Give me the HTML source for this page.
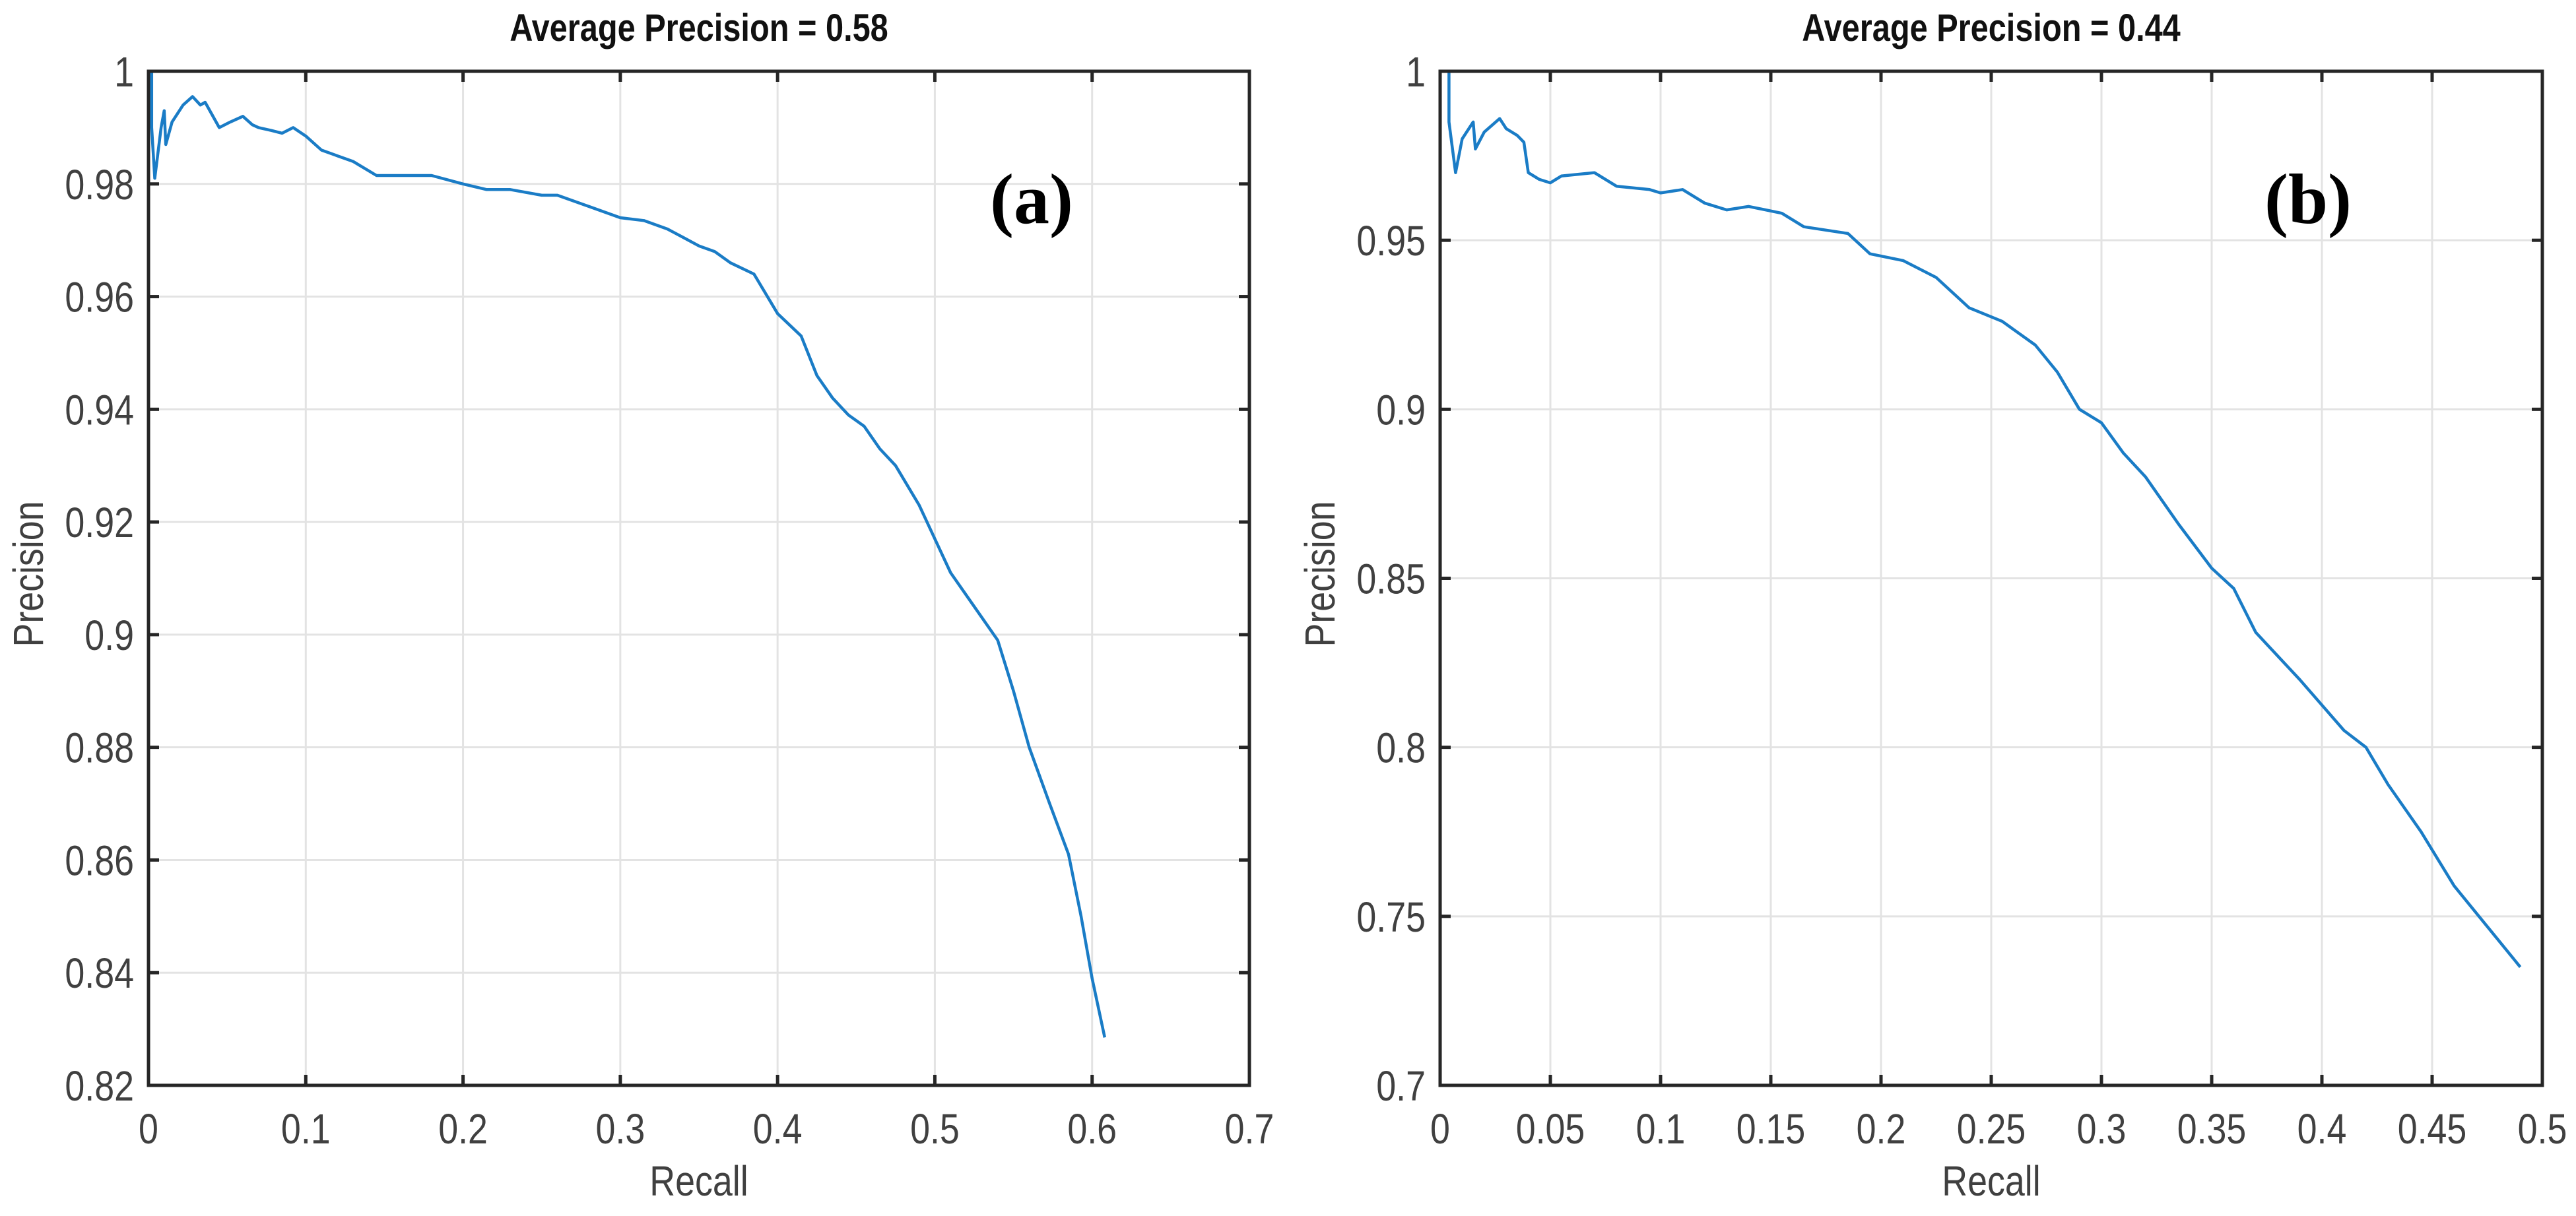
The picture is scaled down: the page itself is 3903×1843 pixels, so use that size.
<!DOCTYPE html>
<html><head><meta charset="utf-8">
<style>
html,body{margin:0;padding:0;background:#fff;}
svg{display:block;}
text{font-family:"Liberation Sans Narrow","Liberation Sans",sans-serif;fill:#404040;}
</style></head>
<body>
<svg id="fig" width="3903" height="1843" viewBox="0 0 3903 1843" xmlns="http://www.w3.org/2000/svg"></svg>
<script>
// Panel (a) data
const recallA = [0,0.002,0.002,0.004,0.008,0.010,0.011,0.015,0.022,0.028,0.033,0.036,0.040,0.045,0.052,0.060,0.066,0.070,0.078,0.085,0.092,0.100,0.110,0.120,0.130,0.145,0.160,0.180,0.200,0.215,0.230,0.250,0.260,0.280,0.300,0.315,0.330,0.340,0.350,0.360,0.370,0.385,0.400,0.415,0.425,0.435,0.445,0.455,0.465,0.475,0.490,0.500,0.510,0.525,0.540,0.550,0.560,0.573,0.585,0.593,0.600,0.608];
const precisionA = [1.000,1.000,0.990,0.981,0.990,0.993,0.987,0.991,0.994,0.9955,0.994,0.9945,0.9925,0.990,0.991,0.992,0.9905,0.990,0.9895,0.989,0.990,0.9885,0.986,0.985,0.984,0.9815,0.9815,0.9815,0.980,0.979,0.979,0.978,0.978,0.976,0.974,0.9735,0.972,0.9705,0.969,0.968,0.966,0.964,0.957,0.953,0.946,0.942,0.939,0.937,0.933,0.930,0.923,0.917,0.911,0.905,0.899,0.890,0.880,0.870,0.861,0.850,0.839,0.8285];
const xTicksA = [0,0.1,0.2,0.3,0.4,0.5,0.6,0.7];
const yTicksA = [0.82,0.84,0.86,0.88,0.9,0.92,0.94,0.96,0.98,1];
const xTickLabelsA = ["0","0.1","0.2","0.3","0.4","0.5","0.6","0.7"];
const yTickLabelsA = ["0.82","0.84","0.86","0.88","0.9","0.92","0.94","0.96","0.98","1"];
// Panel (b) data
const recallB = [0,0.004,0.004,0.007,0.010,0.015,0.016,0.020,0.027,0.030,0.035,0.038,0.040,0.045,0.050,0.055,0.070,0.080,0.095,0.100,0.110,0.120,0.130,0.140,0.155,0.165,0.185,0.195,0.210,0.225,0.240,0.255,0.270,0.280,0.290,0.300,0.310,0.320,0.335,0.350,0.360,0.370,0.390,0.410,0.420,0.430,0.445,0.460,0.475,0.490];
const precisionB = [1.000,1.000,0.985,0.970,0.980,0.985,0.977,0.982,0.986,0.983,0.981,0.979,0.970,0.968,0.967,0.969,0.970,0.966,0.965,0.964,0.965,0.961,0.959,0.960,0.958,0.954,0.952,0.946,0.944,0.939,0.930,0.926,0.919,0.911,0.900,0.896,0.887,0.880,0.866,0.853,0.847,0.834,0.820,0.805,0.800,0.789,0.775,0.759,0.747,0.735];
const xTicksB = [0,0.05,0.1,0.15,0.2,0.25,0.3,0.35,0.4,0.45,0.5];
const yTicksB = [0.7,0.75,0.8,0.85,0.9,0.95,1];
const xTickLabelsB = ["0","0.05","0.1","0.15","0.2","0.25","0.3","0.35","0.4","0.45","0.5"];
const yTickLabelsB = ["0.7","0.75","0.8","0.85","0.9","0.95","1"];

const NS = "http://www.w3.org/2000/svg";
const svg = document.getElementById('fig');
const SX = 0.84;
function mk(tag, attrs, parent){
  const e = document.createElementNS(NS, tag);
  for (const k in attrs) e.setAttribute(k, attrs[k]);
  (parent||svg).appendChild(e);
  return e;
}
function narrowText(parent, x, y, anchor, size, str, extra){
  const t = mk('text', Object.assign({x:0,y:0,'text-anchor':anchor,'font-size':size,transform:'translate('+x+','+y+') scale('+SX+',1)'}, extra||{}), parent);
  t.textContent = str;
  return t;
}

function panel(cfg){
  const g = mk('g', {});
  
  
  const L=cfg.left, R=cfg.right, T=108, B=1645;
  const xs = v => L + (v - cfg.xmin)/(cfg.xmax-cfg.xmin)*(R-L);
  const ys = v => B - (v - cfg.ymin)/(cfg.ymax-cfg.ymin)*(B-T);
  cfg.xTicks.forEach((t,i)=>{
    const gl = mk('line',{x1:xs(t),x2:xs(t),y1:T,y2:B,stroke:'#e3e3e3','stroke-width':3},g);
    
    
  });
  cfg.yTicks.forEach((t,i)=>{
    const gl = mk('line',{x1:L,x2:R,y1:ys(t),y2:ys(t),stroke:'#e3e3e3','stroke-width':3},g);
    
    
  });
  let d='';
  cfg.xs.forEach((x,i)=>{ d += (i?'L':'M') + xs(x).toFixed(1) + ' ' + ys(cfg.ys[i]).toFixed(1) + ' '; });
  const p = mk('path',{d:d,fill:'none',stroke:'#1a7cc6','stroke-width':4.5,'stroke-linejoin':'round'},g);
  
  
  const box = mk('rect',{x:L,y:T,width:R-L,height:B-T,fill:'none',stroke:'#262626','stroke-width':5},g);
  
  
  cfg.xTicks.forEach((t,i)=>{
    mk('line',{x1:xs(t),x2:xs(t),y1:B,y2:B-16,stroke:'#262626','stroke-width':5},g);
    mk('line',{x1:xs(t),x2:xs(t),y1:T,y2:T+16,stroke:'#262626','stroke-width':5},g);
    const tx = narrowText(g, xs(t), 1733, 'middle', 64, cfg.xLabels[i]);
    
    
  });
  cfg.yTicks.forEach((t,i)=>{
    mk('line',{x1:L,x2:L+16,y1:ys(t),y2:ys(t),stroke:'#262626','stroke-width':5},g);
    mk('line',{x1:R,x2:R-16,y1:ys(t),y2:ys(t),stroke:'#262626','stroke-width':5},g);
    const tx = narrowText(g, L-22, ys(t)+23, 'end', 64, cfg.yLabels[i]);
    
    
  });
  const title = narrowText(g, (L+R)/2, 62, 'middle', 58, cfg.title, {'font-weight':'bold',style:'fill:#111'});
  
  
  const xl = narrowText(g, (L+R)/2, 1812, 'middle', 64, 'Recall');
  
  
  const yl = mk('text',{x:0,y:0,'text-anchor':'middle','font-size':64,transform:'translate('+(L-160)+',870) rotate(-90) scale('+SX+',1)'},g);
  yl.textContent = 'Precision';
  
  
  const tag = mk('text',{x:cfg.tagX,y:338,'text-anchor':'middle','font-size':108,'font-weight':'bold',style:'font-family:"Liberation Serif",serif;fill:#000'},g);
  tag.textContent = cfg.tag;
  
  
}

panel({name:'panel-a',left:225,right:1893,xmin:0,xmax:0.7,ymin:0.82,ymax:1,
  xs:recallA,ys:precisionA,xTicks:xTicksA,yTicks:yTicksA,xLabels:xTickLabelsA,yLabels:yTickLabelsA,
  title:'Average Precision = 0.58',tag:'(a)',tagX:1563});
panel({name:'panel-b',left:2182,right:3852,xmin:0,xmax:0.5,ymin:0.7,ymax:1,
  xs:recallB,ys:precisionB,xTicks:xTicksB,yTicks:yTicksB,xLabels:xTickLabelsB,yLabels:yTickLabelsB,
  title:'Average Precision = 0.44',tag:'(b)',tagX:3497});
</script>
</body></html>
